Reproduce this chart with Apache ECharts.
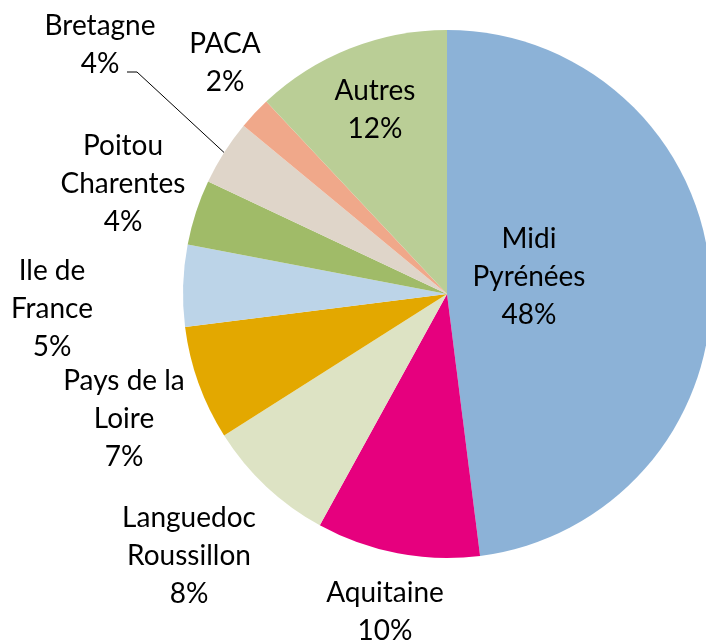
<!DOCTYPE html>
<html><head><meta charset="utf-8">
<script src="https://cdn.jsdelivr.net/npm/echarts@6/dist/echarts.min.js"></script>
<style>html,body{margin:0;padding:0;background:#fff}#c{width:706px;height:644px}</style>
</head><body><div id="c"></div>
<script>
const categories = ['Midi Pyrénées','Aquitaine','Languedoc Roussillon','Pays de la Loire','Ile de France','Poitou Charentes','Bretagne','PACA','Autres'];
const labelLines = ['Midi\nPyrénées','Aquitaine','Languedoc\nRoussillon','Pays de la\nLoire','Ile de\nFrance','Poitou\nCharentes','Bretagne','PACA','Autres'];
const values = [48,10,8,7,5,4,4,2,12];
const colors = ['#8CB2D7','#E6007E','#DDE3C4','#E3A800','#BCD4E8','#A0BB68','#DFD5C9','#F0A88A','#BACE96'];
// label block centres (layout only)
const labelPos = [[529,277],[385,612],[189,556],[124,419],[52,309],[123,184],[100,45],[225,63],[375,110]];

const chart = echarts.init(document.getElementById('c'), null, {renderer:'canvas'});
chart.setOption({
  animation:false,
  series:[{
    type:'pie',
    center:[447,294],
    radius:264,
    startAngle:90,
    clockwise:true,
    avoidLabelOverlap:false,
    data: categories.map((n,i)=>({
      name:n, value:values[i],
      itemStyle:{color:colors[i]},
      labelLine:{show: n==='Bretagne', lineStyle:{color:'#000',width:1}, length:10, length2:10}
    })),
    itemStyle:{borderWidth:0},
    label:{
      show:true,
      position:'outside',
      formatter:p=>labelLines[p.dataIndex]+'\n'+p.value+'%',
      fontFamily:'Lato',
      fontSize:28,
      lineHeight:38,
      color:'#000',
      align:'center'
    },
    labelLayout:p=>{
      const i=p.dataIndex, x=labelPos[i][0], y=labelPos[i][1];
      const r={x:x, y:y, align:'center', verticalAlign:'middle'};
      if(categories[i]==='Bretagne' && p.labelLinePoints){
        const a=p.labelLinePoints[0];
        r.labelLinePoints=[[x+27,y+27],[x+37,y+27],[a[0],a[1]]];
      }
      return r;
    },
    emphasis:{disabled:true}
  }]
});
</script></body></html>
